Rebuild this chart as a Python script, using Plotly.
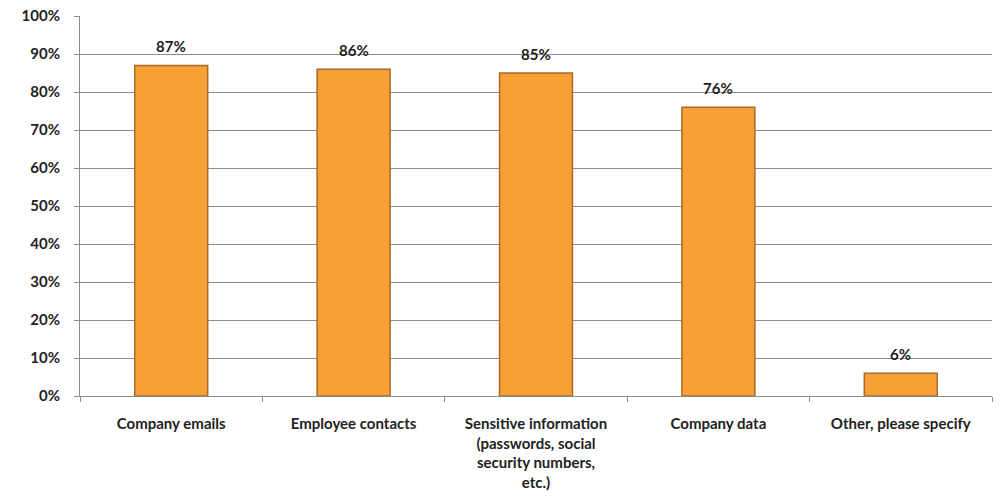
import plotly.graph_objects as go

categories = ["Company emails", "Employee contacts",
              "Sensitive information<br>(passwords, social<br>security numbers,<br>etc.)",
              "Company data", "Other, please specify"]
values = [87, 86, 85, 76, 6]
labels = ["87%", "86%", "85%", "76%", "6%"]
y_ticks = [0, 10, 20, 30, 40, 50, 60, 70, 80, 90, 100]
y_tick_text = [f"{v}%" for v in y_ticks]

FONT = "Lato"
tf = dict(family=FONT, size=15, color="#222", weight=700)

fig = go.Figure(go.Bar(
    x=categories, y=values,
    marker=dict(color="#F7A035", line=dict(color="#A8692A", width=1.5)),
    width=0.4, hoverinfo="x+y",
))

for c, v, t in zip(categories, values, labels):
    fig.add_annotation(x=c, y=v, text=t, showarrow=False, yanchor="bottom",
                       yshift=8, font=tf)

fig.update_layout(
    width=1000, height=502,
    margin=dict(l=80, r=8, t=16, b=106),
    plot_bgcolor="white", paper_bgcolor="white",
    showlegend=False,
    font=dict(family=FONT, size=15, color="#222"),
)
fig.update_yaxes(range=[0, 100], tickvals=y_ticks, ticktext=y_tick_text,
                 showgrid=True, gridcolor="#8c8c8c", gridwidth=1,
                 showline=True, linecolor="#8c8c8c", linewidth=1,
                 ticks="outside", ticklen=5, tickcolor="#8c8c8c",
                 ticklabelstandoff=11,
                 tickfont=tf, automargin=False,
                 zeroline=False)
fig.update_xaxes(showline=True, linecolor="#8c8c8c", linewidth=1,
                 ticks="outside", ticklen=5, tickcolor="#8c8c8c",
                 tickson="boundaries", automargin=False,
                 ticklabelstandoff=14,
                 tickfont=tf)

fig.write_html("out.html", config={"displayModeBar": False},
               post_script="document.body.style.margin='0';")
